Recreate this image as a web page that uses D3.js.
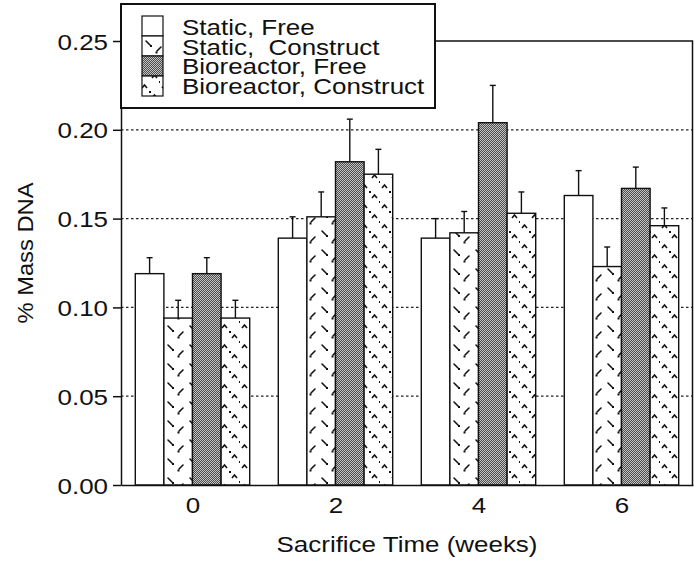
<!DOCTYPE html>
<html>
<head>
<meta charset="utf-8">
<script src="https://cdn.jsdelivr.net/npm/d3@7/dist/d3.min.js"></script>
<style>
  html, body { margin: 0; padding: 0; background: #fff; }
  svg { display: block; }
  text { font-family: "Liberation Sans", Arial, Helvetica, sans-serif; fill: #111; white-space: pre; }
</style>
</head>
<body>
<svg id="chart" width="694" height="561"></svg>
<script>
// Sacrifice times (weeks)
const weeks = [0, 2, 4, 6];
const seriesNames = ["Static, Free", "Static,  Construct", "Bioreactor, Free", "Bioreactor, Construct"];

// % Mass DNA, mean and upper error per group
const staticFree = [0.119, 0.139, 0.139, 0.163];
const staticFreeErr = [0.009, 0.012, 0.011, 0.014];
const staticConstruct = [0.094, 0.151, 0.142, 0.123];
const staticConstructErr = [0.010, 0.014, 0.012, 0.011];
const bioFree = [0.119, 0.182, 0.204, 0.167];
const bioFreeErr = [0.009, 0.024, 0.021, 0.012];
const bioConstruct = [0.094, 0.175, 0.153, 0.146];
const bioConstructErr = [0.010, 0.014, 0.012, 0.010];

const yTicks = [0.00, 0.05, 0.10, 0.15, 0.20, 0.25];
const gridTicks = [0.05, 0.10, 0.15, 0.20];

const series = [
  { name: seriesNames[0], values: staticFree, errs: staticFreeErr, fill: "#ffffff" },
  { name: seriesNames[1], values: staticConstruct, errs: staticConstructErr, fill: "url(#patSC)" },
  { name: seriesNames[2], values: bioFree, errs: bioFreeErr, fill: "url(#patBF)" },
  { name: seriesNames[3], values: bioConstruct, errs: bioConstructErr, fill: "url(#patBC)" }
];

const svg = d3.select("#chart");
const plotL = 121, plotR = 693, plotT = 41, plotB = 485;
const barWeeks = 0.4;         // bar width in week units
const stretch = 1.18;         // wide typeface look

const x = d3.scaleLinear().domain([-1, 7]).range([plotL, plotR]);
const y = d3.scaleLinear().domain([0, 0.25]).range([plotB, plotT]);

// ---- fill patterns ----
const defs = svg.append("defs");

// dashed-slash texture
const pSC = defs.append("pattern").attr("id", "patSC")
  .attr("patternUnits", "userSpaceOnUse").attr("width", 22).attr("height", 19);
pSC.append("rect").attr("width", 22).attr("height", 19).attr("fill", "#fff");
pSC.append("path").attr("d", "M3,13 L7,9 M14,3 L18,7")
  .attr("stroke", "#111").attr("stroke-width", 1.6).attr("stroke-linecap", "round").attr("fill", "none");
pSC.append("rect").attr("x", 1.5).attr("y", 13.5).attr("width", 2).attr("height", 2).attr("fill", "#111");
pSC.append("rect").attr("x", 18).attr("y", 7).attr("width", 2).attr("height", 2).attr("fill", "#111");

// dark stipple
const pBF = defs.append("pattern").attr("id", "patBF")
  .attr("patternUnits", "userSpaceOnUse").attr("width", 2).attr("height", 2);
pBF.append("rect").attr("width", 2).attr("height", 2).attr("fill", "#4c4c4c");
pBF.append("rect").attr("x", 0).attr("y", 0).attr("width", 1).attr("height", 1).attr("fill", "#c4c4c4");
pBF.append("rect").attr("x", 1).attr("y", 1).attr("width", 1).attr("height", 1).attr("fill", "#c4c4c4");

// chevron texture
const pBC = defs.append("pattern").attr("id", "patBC")
  .attr("patternUnits", "userSpaceOnUse").attr("width", 20).attr("height", 20);
pBC.append("rect").attr("width", 20).attr("height", 20).attr("fill", "#fff");
pBC.append("path").attr("d", "M2,8 L4.5,5 L7,8 M12,18 L14.5,15 L17,18")
  .attr("stroke", "#111").attr("stroke-width", 1.6).attr("fill", "none");
pBC.append("rect").attr("x", 9).attr("y", 11).attr("width", 2).attr("height", 2).attr("fill", "#111");
pBC.append("rect").attr("x", 19).attr("y", 1).attr("width", 2).attr("height", 2).attr("fill", "#111");

// ---- dotted gridlines ----
svg.append("g").selectAll("line").data(gridTicks).join("line")
  .attr("x1", plotL).attr("x2", plotR)
  .attr("y1", d => y(d)).attr("y2", d => y(d))
  .attr("stroke", "#222").attr("stroke-width", 1.2).attr("stroke-dasharray", "2.5,2.5");

// ---- bars ----
const barG = svg.append("g");
series.forEach((s, si) => {
  const off = -2 * barWeeks + si * barWeeks;
  barG.append("g").selectAll("rect").data(weeks).join("rect")
    .attr("x", (w) => x(w + off))
    .attr("width", (w) => x(w + off + barWeeks) - x(w + off))
    .attr("y", (w, i) => y(s.values[i]))
    .attr("height", (w, i) => y(0) - y(s.values[i]))
    .attr("fill", s.fill)
    .attr("stroke", "#111").attr("stroke-width", 1.4);
});

// ---- error bars (upper only) ----
const errG = svg.append("g").attr("stroke", "#111").attr("stroke-width", 1.4);
series.forEach((s, si) => {
  const off = -2 * barWeeks + si * barWeeks + barWeeks / 2;
  weeks.forEach((w, i) => {
    const cx = x(w + off);
    const y0 = y(s.values[i]), y1 = y(s.values[i] + s.errs[i]);
    errG.append("line").attr("x1", cx).attr("x2", cx).attr("y1", y0).attr("y2", y1);
    errG.append("line").attr("x1", cx - 3).attr("x2", cx + 3).attr("y1", y1).attr("y2", y1);
  });
});

// ---- axes ----
const yAxis = svg.append("g").attr("transform", `translate(${plotL},0)`)
  .call(d3.axisLeft(y).tickValues(yTicks).tickFormat(d3.format(".2f")).tickSize(8).tickSizeOuter(0).tickPadding(5));
yAxis.selectAll("text")
  .attr("x", -13 / stretch).attr("dy", null).attr("y", 8)
  .attr("transform", `scale(${stretch},1)`)
  .style("font-size", "22px").attr("fill", "#111");

const xAxis = svg.append("g").attr("transform", `translate(0,${plotB})`)
  .call(d3.axisBottom(x).tickValues(weeks).tickFormat(d3.format("d")).tickSize(0).tickSizeOuter(0).tickPadding(12));
xAxis.selectAll("text")
  .attr("transform", `scale(${stretch},1)`)
  .attr("x", 0)
  .style("font-size", "22px").attr("fill", "#111");

svg.selectAll(".domain, .tick line").attr("stroke", "#111").attr("stroke-width", 1.5);

// frame top and right
svg.append("path")
  .attr("d", `M${plotL},${y(0.25)} H${plotR - 0.5} V${plotB}`)
  .attr("fill", "none").attr("stroke", "#111").attr("stroke-width", 1.5);

// ---- axis titles ----
svg.append("text")
  .attr("transform", `translate(33,253) rotate(-90) scale(1.08,1)`)
  .attr("text-anchor", "middle").style("font-size", "22px")
  .text("% Mass DNA");

svg.append("text")
  .attr("transform", `translate(407,552) scale(${stretch},1)`)
  .attr("text-anchor", "middle").style("font-size", "22px")
  .text("Sacrifice Time (weeks)");

// ---- legend ----
const leg = svg.append("g");
leg.append("rect").attr("x", 121).attr("y", 4).attr("width", 314).attr("height", 104)
  .attr("fill", "#fff").attr("stroke", "#111").attr("stroke-width", 2);
series.forEach((s, i) => {
  leg.append("rect").attr("x", 142).attr("y", 16 + 20 * i).attr("width", 21).attr("height", 20)
    .attr("fill", s.fill).attr("stroke", "#111").attr("stroke-width", 1.2);
  leg.append("text")
    .attr("transform", `translate(182,${35 + 19.7 * i}) scale(${stretch},1)`)
    .style("font-size", "22px")
    .text(s.name);
});
</script>
</body>
</html>
